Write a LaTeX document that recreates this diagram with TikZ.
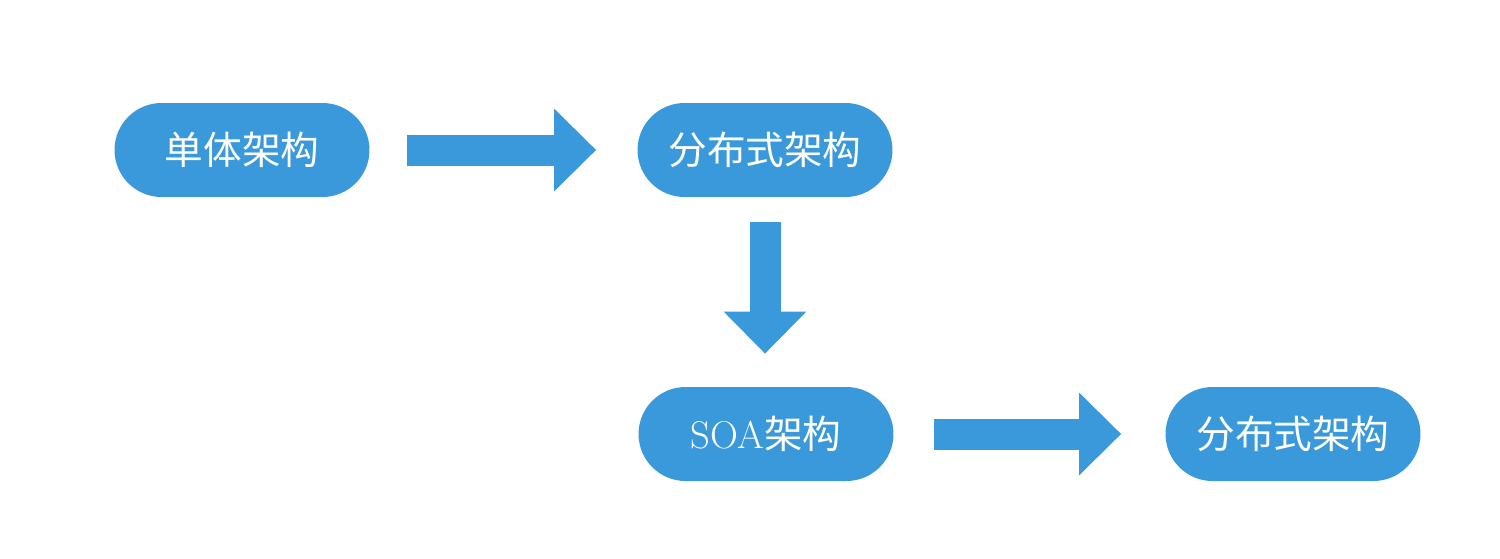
\documentclass[tikz,border=0pt]{standalone}
\usepackage{fontspec}
\newfontfamily\cjk{Noto Sans CJK SC}
\usetikzlibrary{arrows.meta}
\definecolor{cStage}{HTML}{3A99DB}

\begin{document}
\begin{tikzpicture}[x=0.02cm,y=-0.02cm,
    stage/.style={fill=cStage,text=white,rounded corners=0.94cm,
      minimum width=5.1cm,minimum height=1.88cm,inner sep=0pt,
      font=\fontsize{22}{26}\selectfont\cjk},
    blockarrow/.style={draw=cStage,line width=0.62cm,
      -{Triangle[length=0.84cm,width=1.6cm]}}]
  \useasboundingbox (0,0) rectangle (1500,558);
  \node[stage] (mono) at (242,150) {单体架构};
  \node[stage] (dist) at (765,150) {分布式架构};
  \node[stage] (soa) at (766,434) {{\rmfamily SOA}架构};
  \node[stage] (distb) at (1293,434) {分布式架构};
  \draw[blockarrow,shorten <=0.74cm,shorten >=0.82cm] (mono.east) -- (dist.west);
  \draw[blockarrow,shorten <=0.5cm,shorten >=0.66cm] (dist.south) -- (dist.south |- soa.north);
  \draw[blockarrow,shorten <=0.8cm,shorten >=0.88cm] (soa.east) -- (distb.west);
\end{tikzpicture}
\end{document}
